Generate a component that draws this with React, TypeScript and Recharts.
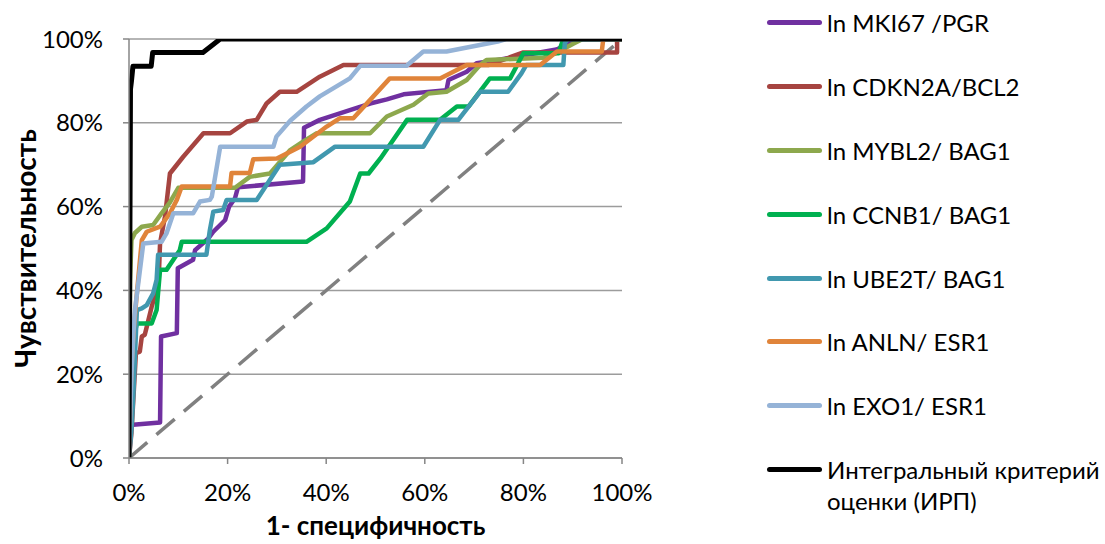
import React from 'react';
import { LineChart, Line, XAxis, YAxis, CartesianGrid, Legend } from 'recharts';

const FONT = 'Lato, "Open Sans", sans-serif';

const X_TICKS = [0, 20, 40, 60, 80, 100];
const Y_TICKS = [0, 20, 40, 60, 80, 100];

const SERIES_NAMES = [
  'ln MKI67 /PGR',
  'ln CDKN2A/BCL2',
  'ln MYBL2/ BAG1',
  'ln CCNB1/ BAG1',
  'ln UBE2T/ BAG1',
  'ln ANLN/ ESR1',
  'ln EXO1/ ESR1',
  'Интегральный критерий\nоценки (ИРП)',
];

const SERIES_COLORS = ['#7030A0', '#A64440', '#8DA84D', '#00B050', '#4198AF', '#E0843A', '#95B3D7', '#000000'];

const mki67 = [
  [0, 0], [0.2, 7.9], [6.3, 8.5], [6.5, 29], [9.7, 29.8], [9.9, 45.3], [13, 47.3], [13.4, 49.6],
  [16.1, 52.4], [17.1, 54], [19.5, 56.8], [20.3, 60], [21.5, 62], [22.1, 64.6], [35.3, 66],
  [35.5, 78.8], [38.7, 80.7], [44.8, 83], [48.9, 84.6], [52.3, 85.6], [55.7, 86.8], [64.4, 87.8],
  [64.8, 90.2], [68.5, 92.2], [70.5, 94.2], [74.8, 95], [86.7, 97.5], [88.8, 98.6], [90.8, 100], [100, 100],
];
const cdkn2a = [
  [0, 0], [0.5, 6], [1.4, 25], [2.2, 25.4], [2.6, 29], [3.2, 29.4], [3.6, 31.3], [4.6, 36.1],
  [6, 41.8], [6.3, 51.3], [7.3, 57.6], [8.3, 67.9], [11, 71.9], [15.1, 77.5], [20.5, 77.5],
  [23.9, 80.3], [25.9, 80.7], [27.9, 84.6], [30.6, 87.4], [34, 87.4], [38.7, 91], [43.5, 93.8],
  [73, 93.8], [80, 96.8], [99, 96.8], [99, 100], [100, 100],
];
const mybl2 = [
  [0, 0], [0.2, 42], [0.5, 52], [1.2, 53.7], [2.6, 55.2], [4.9, 55.6], [6.6, 58.4], [8.3, 61],
  [10, 64.5], [21.5, 64.5], [24.5, 67.1], [28.6, 67.9], [32.7, 73.5], [35.3, 75.5], [38.1, 77.5],
  [48.9, 77.5], [52.3, 81.5], [57.7, 84.3], [60.7, 87], [64.4, 87.4], [68.5, 90.2], [71.2, 93.8],
  [72.5, 95], [84, 95.5], [86.7, 96.7], [90, 98.8], [92, 100], [100, 100],
];
const ccnb1 = [
  [0, 0], [0.8, 20], [1.2, 30], [1.6, 32.1], [4.6, 32.1], [5.6, 35.3], [6.3, 44.9], [7.6, 44.9],
  [10.3, 49.6], [10.7, 51.6], [36, 51.6], [40.1, 54.8], [44.8, 61.2], [46.9, 67.9], [48.6, 67.9],
  [51, 71.5], [56.4, 80.7], [63.1, 80.7], [66.5, 83.9], [68.9, 83.9], [73.2, 90.6], [77.3, 90.6],
  [80, 96.6], [87.1, 96.6], [88.1, 100], [100, 100],
];
const ube2t = [
  [0, 0], [0.5, 6.7], [0.9, 15.4], [1.6, 35.3], [2.6, 35.7], [3.6, 36.5], [4.9, 39.3], [5.6, 42.5],
  [5.9, 48.5], [15.7, 48.5], [16.4, 54.4], [17.1, 58.8], [19.1, 59.2], [19.8, 61.6], [25.9, 61.6],
  [30.6, 70], [37.4, 70.6], [41.8, 74.3], [59.7, 74.3], [63.1, 80.7], [66.8, 80.7], [71.2, 87.4],
  [76.9, 87.4], [79.6, 91.8], [80.6, 93.8], [88.1, 93.8], [88.4, 99], [89, 100], [100, 100],
];
const anln = [
  [0, 0], [0.3, 15], [0.5, 21.8], [0.9, 29.8], [1.6, 39.3], [2.6, 52], [3.6, 54], [6.3, 55.2],
  [8.3, 58.4], [9.7, 61.6], [10.7, 64.8], [20.5, 64.8], [20.8, 68], [24.5, 68], [25.2, 71.3],
  [30, 71.5], [34.7, 74.3], [40.1, 79.1], [42.8, 81.1], [45.5, 81.1], [52.9, 90.6], [63.1, 90.6],
  [68.5, 93.8], [83.4, 93.8], [86.8, 97], [95.9, 97], [96.2, 100], [100, 100],
];
const exo1 = [
  [0, 0], [0.5, 20], [0.9, 29.8], [1.2, 35.3], [2.9, 51.2], [6.6, 51.6], [7.6, 53.6], [9, 58.4],
  [13, 58.4], [14.4, 61.2], [16.4, 61.6], [16.8, 62.4], [18.5, 74.3], [29.3, 74.3], [29.9, 76.7],
  [32.7, 80.5], [36, 83.9], [38.7, 86.3], [44.8, 90.6], [46.9, 93.6], [56.3, 93.6], [59.7, 97],
  [64.4, 97], [74.8, 99.4], [76.5, 100], [100, 100],
];
const integral = [
  [0, 0], [0.3, 88], [0.5, 90], [0.8, 93.5], [4.5, 93.5], [4.8, 96.8], [15, 96.8], [18.5, 100], [100, 100],
];
const diagonal = [
  [0, 0], [100, 100],
];

const SERIES_VALUES = [mki67, cdkn2a, mybl2, ccnb1, ube2t, anln, exo1, integral];

const toPoints = (arr: number[][]) => arr.map(([x, y]) => ({ x, y }));

const renderLegend = () => (
  <div style={{ fontFamily: FONT, fontSize: 24, color: '#000' }}>
    {SERIES_NAMES.map((name, i) => (
      <div key={name} style={{ display: 'flex', alignItems: 'flex-start', height: 63.9 }}>
        <div
          style={{
            width: 55,
            height: 5,
            background: SERIES_COLORS[i],
            borderRadius: 3,
            marginTop: 13,
            marginLeft: 7,
            marginRight: 5,
            flex: 'none',
          }}
        />
        <div style={{ lineHeight: '31px', whiteSpace: 'pre' }}>{name}</div>
      </div>
    ))}
  </div>
);

const YTitle = (props: any) => {
  const vb = props.viewBox || {};
  const cx = 25;
  const cy = vb.y + vb.height / 2;
  return (
    <text
      x={cx}
      y={cy}
      transform={`rotate(-90 ${cx} ${cy})`}
      textAnchor="middle"
      dominantBaseline="central"
      fontFamily={FONT}
      fontSize={28}
      fontWeight="bold"
      fill="#000"
    >
      Чувствительность
    </text>
  );
};

const XTitle = (props: any) => {
  const vb = props.viewBox || {};
  const cx = vb.x + vb.width / 2;
  const cy = 525;
  return (
    <text
      x={cx}
      y={cy}
      textAnchor="middle"
      dominantBaseline="central"
      fontFamily={FONT}
      fontSize={26}
      fontWeight="bold"
      fill="#000"
    >
      1- специфичность
    </text>
  );
};

export default function App() {
  return (
    <div style={{ position: 'absolute', left: 0, top: 0, width: 1105, height: 544, background: '#fff' }}>
      <LineChart width={1105} height={544} margin={{ top: 39, right: 483, bottom: 0, left: 0 }}>
        <CartesianGrid vertical={false} stroke="#9c9c9c" strokeWidth={1.5} />
        <XAxis
          type="number"
          dataKey="x"
          domain={[0, 100]}
          ticks={X_TICKS}
          tickFormatter={(v: number) => `${v}%`}
          axisLine={{ stroke: '#868686', strokeWidth: 1.5 }}
          tickLine={{ stroke: '#868686', strokeWidth: 1.5 }}
          tickSize={6}
          tickMargin={20}
          tick={{ fill: '#000', fontSize: 24, fontFamily: FONT }}
          height={86}
          allowDataOverflow
          label={<XTitle />}
        />
        <YAxis
          type="number"
          dataKey="y"
          domain={[0, 100]}
          ticks={Y_TICKS}
          tickFormatter={(v: number) => `${v}%`}
          axisLine={{ stroke: '#868686', strokeWidth: 1.5 }}
          tickLine={{ stroke: '#868686', strokeWidth: 1.5 }}
          tickSize={6}
          tickMargin={20}
          tick={{ fill: '#000', fontSize: 24, fontFamily: FONT }}
          width={129}
          allowDataOverflow
          label={<YTitle />}
        />
        <Line
          data={toPoints(diagonal)}
          dataKey="y"
          stroke="#808080"
          strokeWidth={3.5}
          strokeDasharray="24 12"
          dot={false}
          legendType="none"
          isAnimationActive={false}
        />
        {SERIES_VALUES.map((vals, i) => (
          <Line
            key={SERIES_NAMES[i]}
            name={SERIES_NAMES[i]}
            data={toPoints(vals)}
            dataKey="y"
            stroke={SERIES_COLORS[i]}
            strokeWidth={i === 7 ? 5 : 4.5}
            strokeLinejoin="round"
            dot={false}
            type="linear"
            isAnimationActive={false}
          />
        ))}
        <Legend
          layout="vertical"
          align="center"
          verticalAlign="middle"
          wrapperStyle={{ left: 760, top: 7, width: 345 }}
          content={renderLegend}
        />
      </LineChart>
    </div>
  );
}
